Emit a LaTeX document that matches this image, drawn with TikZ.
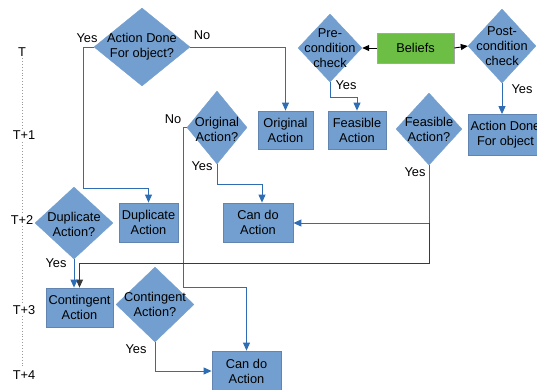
\documentclass[tikz,border=0pt]{standalone}
\usepackage{fontspec}
\setmainfont{Liberation Sans}
\usetikzlibrary{shapes.geometric,arrows.meta,calc}
\definecolor{boxfill}{HTML}{729FCF}
\definecolor{boxline}{HTML}{6185B0}
\definecolor{arrblue}{HTML}{2E6DB4}
\definecolor{belgreen}{HTML}{6CBE45}
\definecolor{darkline}{HTML}{3A3A3A}
\begin{document}
\begin{tikzpicture}[x=1pt,y=-1pt,
  font=\fontsize{12.8}{15}\selectfont,
  boxnode/.style={rectangle,fill=boxfill,draw=boxline,line width=0.8pt,align=center,inner sep=0pt},
  dianode/.style={diamond,fill=boxfill,draw=boxfill,inner sep=0pt},
  dtext/.style={align=center,inner sep=0pt},
  arr/.style={draw=arrblue,line width=0.9pt,-{Triangle[length=8pt,width=7pt]}},
  darr/.style={draw=darkline,line width=0.9pt,-{Triangle[length=8pt,width=7pt]}},
  lbl/.style={inner sep=0pt},
  tl/.style={fill=white,inner sep=1pt}]
\useasboundingbox (0,0) rectangle (537,389);
% timeline
\draw[gray!80,dotted,line width=0.9pt] (22,58) -- (22,367);
\node[tl] (t0) at (22,52) {T};
\node[tl] (t1) at (24,135) {T+1};
\node[tl] (t2) at (22,220) {T+2};
\node[tl] (t3) at (24,310) {T+3};
\node[tl] (t4) at (24,375) {T+4};
% diamonds
\node[dianode,minimum width=96pt,minimum height=78pt] (dAD) at (142,47) {};
\node[dtext] at (dAD.center) {Action Done\\For object?};
\node[dianode,minimum width=64pt,minimum height=68pt] (dPre) at (330,48) {};
\node[dtext] at (dPre.center) {Pre-\\condition\\check};
\node[dianode,minimum width=68pt,minimum height=74pt] (dPost) at (502,46) {};
\node[dtext] at (dPost.center) {Post-\\condition\\check};
\node[dianode,minimum width=60pt,minimum height=73pt] (dOrig) at (217,127.5) {};
\node[dtext] at ($(dOrig.center)+(0,2)$) {Original\\Action?};
\node[dianode,minimum width=66pt,minimum height=72pt] (dFeas) at (429,129) {};
\node[dtext] at (dFeas.center) {Feasible\\Action?};
\node[dianode,minimum width=78pt,minimum height=72pt] (dDup) at (74,223) {};
\node[dtext] at ($(dDup.center)+(0,1)$) {Duplicate\\Action?};
\node[dianode,minimum width=78pt,minimum height=75pt] (dCont) at (155,304.5) {};
\node[dtext] at (dCont.center) {Contingent\\Action?};
% boxes
\node[boxnode,fill=belgreen,draw=gray!70,minimum width=77pt,minimum height=30pt] (bel) at (415.5,48) {Beliefs};
\node[boxnode,minimum width=55pt,minimum height=38pt] (bOrig) at (285.5,130) {Original\\Action};
\node[boxnode,minimum width=58pt,minimum height=38pt] (bFeas) at (357,130) {Feasible\\Action};
\node[boxnode,minimum width=75pt,minimum height=41pt] (bADF) at (505.5,135) {Action Done\\For object};
\node[boxnode,minimum width=59pt,minimum height=39pt] (bDup) at (148.5,222.5) {Duplicate\\Action};
\node[boxnode,minimum width=70pt,minimum height=39pt] (bCan1) at (258,222.5) {Can do\\Action};
\node[boxnode,minimum width=67pt,minimum height=39pt] (bCont) at (79.5,307.5) {Contingent\\Action};
\node[boxnode,minimum width=69pt,minimum height=40pt] (bCan2) at (246.5,371) {Can do\\Action};
% bend coordinates
\coordinate (k1) at (83,188);
\coordinate (k2) at (330,97);
\coordinate (k3) at (217,184);
\coordinate (k4) at (183,287);
\coordinate (k5) at (429,223);
\coordinate (k6) at (429,263);
\coordinate (k7) at (155,371);
% connectors
\draw[arr] (dAD.west) -| (k1) -| (bDup.north);
\draw[arr] (dAD.east) -| (bOrig.north);
\draw[draw=black,line width=0.9pt,-{Triangle[length=7pt,width=6pt]}] (bel.west) -- (dPre.east);
\draw[draw=black,line width=0.9pt,-{Triangle[length=7pt,width=6pt]}] (bel.east) -- (dPost.west);
\draw[arr] (dPre.south) -- (k2) -| (bFeas.north);
\draw[arr] (dPost.south) -- (dPost.south |- bADF.north);
\draw[arr] (dOrig.south) -- (k3) -| ($(bCan1.north)+(4,0)$);
\draw[arr] (dOrig.west) -| (k4) -| (bCan2.north);
\draw[arr] (dFeas.south) -- (k5) -- (k5 -| bCan1.east);
\draw[darr] (k5) -- (k6) -| (bCont.north);
\draw[arr] (dDup.south) -- ($(bCont.north)+(-5.5,0)$);
\draw[arr] (dCont.south) -- (k7) -- (k7 -| bCan2.west);
% labels
\node[lbl] (y1) at (87,38) {Yes};
\node[lbl] (n1) at (202,35) {No};
\node[lbl] (y2) at (346,85) {Yes};
\node[lbl] (y3) at (522,89) {Yes};
\node[lbl] (n2) at (173,119) {No};
\node[lbl] (y4) at (202,166) {Yes};
\node[lbl] (y5) at (415,172) {Yes};
\node[lbl] (y6) at (56,263) {Yes};
\node[lbl] (y7) at (136,349) {Yes};
\end{tikzpicture}
\end{document}
